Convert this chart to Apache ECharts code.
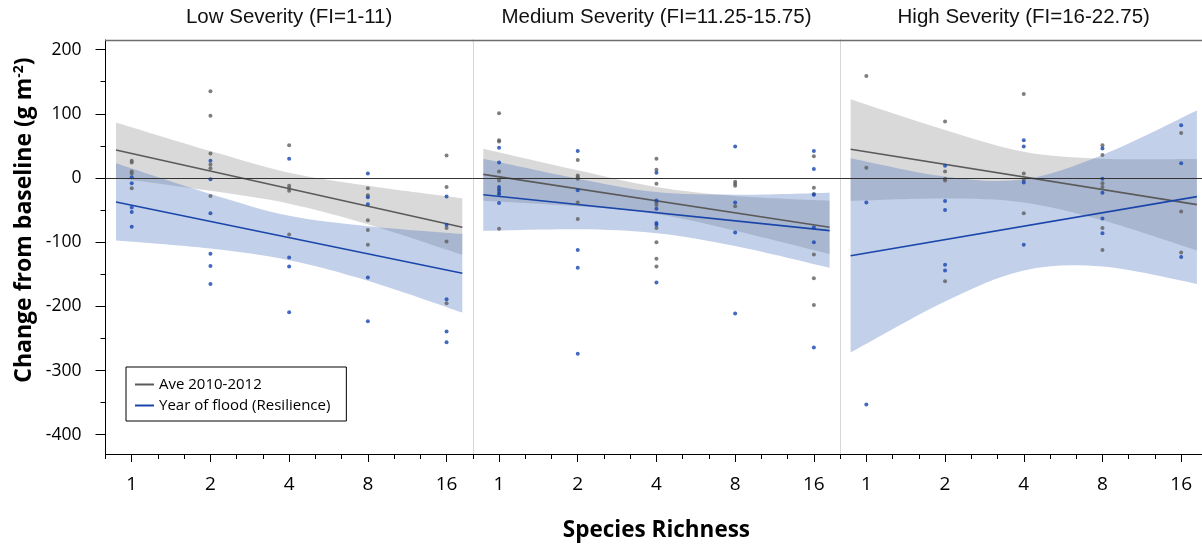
<!DOCTYPE html>
<html>
<head>
<meta charset="utf-8">
<title>Change from baseline vs species richness</title>
<script src="https://cdn.jsdelivr.net/npm/echarts@6/dist/echarts.min.js"></script>
<style>
html, body { margin: 0; padding: 0; background: #fff; }
#chart { width: 1202px; height: 544px; }
</style>
</head>
<body>
<div id="chart"></div>
<script>
var richness = [1, 2, 4, 8, 16];
var yLabels = [-400, -300, -200, -100, 0, 100, 200];
var yMinorTicks = [-350, -250, -150, -50, 50, 150];
var xMinorTicks = [-1 / 3, 1 / 3, 2 / 3, 4 / 3, 5 / 3, 7 / 3, 8 / 3, 10 / 3, 11 / 3, 13 / 3];
var panelTitles = ['Low Severity (FI=1-11)', 'Medium Severity (FI=11.25-15.75)', 'High Severity (FI=16-22.75)'];
var aveName = 'Ave 2010-2012';
var floodName = 'Year of flood (Resilience)';

// points: [species richness, change from baseline]
var lowAve = [[1, 27], [1, 24], [1, 10], [1, 7], [1, -16],
    [2, 135], [2, 97], [2, 38], [2, 21], [2, 15], [2, -28],
    [4, 51], [4, -12], [4, -16], [4, -20], [4, -88],
    [8, -16], [8, -27], [8, -66], [8, -81], [8, -104],
    [16, 35], [16, -14], [16, -78], [16, -99], [16, -195]];
var lowFlood = [[1, 1], [1, -8], [1, -46], [1, -53], [1, -76],
    [2, 27], [2, -2], [2, -55], [2, -118], [2, -137], [2, -165],
    [4, 30], [4, -124], [4, -138], [4, -209],
    [8, 7], [8, -30], [8, -41], [8, -155], [8, -223],
    [16, -29], [16, -73], [16, -189], [16, -239], [16, -256]];
var medAve = [[1, 101], [1, 59], [1, 57], [1, 10], [1, -4], [1, -17], [1, -24], [1, -79],
    [2, 28], [2, 4], [2, 1], [2, -1], [2, -38], [2, -64],
    [4, 30], [4, 13], [4, -9], [4, -38], [4, -42], [4, -78], [4, -100], [4, -126], [4, -138],
    [8, -6], [8, -9], [8, -12], [8, -44],
    [16, 34], [16, -15], [16, -25], [16, -119], [16, -156], [16, -198]];
var medFlood = [[1, 47], [1, 24], [1, -14], [1, -20], [1, -25], [1, -39],
    [2, 42], [2, -19], [2, -112], [2, -140], [2, -274],
    [4, 8], [4, -35], [4, -48], [4, -70], [4, -73], [4, -163],
    [8, 49], [8, -38], [8, -85], [8, -211],
    [16, 42], [16, 14], [16, -26], [16, -77], [16, -100], [16, -264]];
var highAve = [[1, 159], [1, 16],
    [2, 88], [2, 10], [2, -1], [2, -4], [2, -161],
    [4, 131], [4, 7], [4, -3], [4, -55],
    [8, 51], [8, 36], [8, -8], [8, -14], [8, -78], [8, -112],
    [16, 70], [16, -52], [16, -116]];
var highFlood = [[1, -38], [1, -353],
    [2, 19], [2, -36], [2, -50], [2, -135], [2, -144],
    [4, 59], [4, 49], [4, -7], [4, -104],
    [8, 46], [8, -1], [8, -23], [8, -63], [8, -86],
    [16, 82], [16, 23], [16, -123]];

// fitted lines, at log2(richness) = fitX
var fitX = [-0.2, 4.2];
var lowAveFit = [43.6, -76.7];
var lowFloodFit = [-37.4, -148.4];
var medAveFit = [5.7, -76.7];
var medFloodFit = [-26, -82];
var highAveFit = [44.7, -41.5];
var highFloodFit = [-121, -29];

// confidence bands, at log2(richness) = bandX
var bandX = [-0.2, 1, 2, 3, 4.2];
var lowAveUp = [86.6, 42, 8.3, -12, -31.6];
var lowAveLo = [0, -20, -40, -72, -119.6];
var lowFloodUp = [22.8, -25, -59, -75, -87];
var lowFloodLo = [-97.5, -110, -128, -160, -209.6];
var medAveUp = [45.6, 12, -14, -28, -35.3];
var medAveLo = [-35.3, -44, -56, -82, -118.3];
var medFloodUp = [30, -1, -22, -26, -22.8];
var medFloodLo = [-82.5, -80, -86, -106, -140];
var highAveUp = [122.5, 74.7, 41, 30, 29.6];
var highAveLo = [-35.8, -32, -38, -66, -113];
var highFloodUp = [30.6, 2, -2, 35.8, 105];
var highFloodLo = [-272, -192.5, -144, -138, -165];

var panels = [
    {ave: lowAve, flood: lowFlood, aveFit: lowAveFit, floodFit: lowFloodFit,
        aveUp: lowAveUp, aveLo: lowAveLo, floodUp: lowFloodUp, floodLo: lowFloodLo},
    {ave: medAve, flood: medFlood, aveFit: medAveFit, floodFit: medFloodFit,
        aveUp: medAveUp, aveLo: medAveLo, floodUp: medFloodUp, floodLo: medFloodLo},
    {ave: highAve, flood: highFlood, aveFit: highAveFit, floodFit: highFloodFit,
        aveUp: highAveUp, aveLo: highAveLo, floodUp: highFloodUp, floodLo: highFloodLo}
];

var grayDot = '#5e5e5e', blueDot = '#1545b0';
var grayLine = '#5a5a5a', blueLine = '#1a46aa';
var grayBand = 'rgba(160,160,160,0.40)', blueBand = 'rgba(68,108,189,0.32)';
var font = 'Open Sans';

var myChart = echarts.init(document.getElementById('chart'));

function log2Points(pts) {
    var res = [];
    for (var i = 0; i < pts.length; i++) {
        res.push([Math.log2(pts[i][0]), pts[i][1]]);
    }
    return res;
}

function pairUp(xs, ys) {
    var res = [];
    for (var i = 0; i < xs.length; i++) res.push([xs[i], ys[i]]);
    return res;
}

// smooth edge through screen points (catmull-rom -> bezier)
function curvePath(pts, cmd) {
    var d = cmd + pts[0][0] + ' ' + pts[0][1];
    for (var i = 0; i < pts.length - 1; i++) {
        var p0 = pts[Math.max(i - 1, 0)], p1 = pts[i], p2 = pts[i + 1];
        var p3 = pts[Math.min(i + 2, pts.length - 1)];
        d += ' C' + (p1[0] + (p2[0] - p0[0]) / 6) + ' ' + (p1[1] + (p2[1] - p0[1]) / 6) +
            ' ' + (p2[0] - (p3[0] - p1[0]) / 6) + ' ' + (p2[1] - (p3[1] - p1[1]) / 6) +
            ' ' + p2[0] + ' ' + p2[1];
    }
    return d;
}

function bandSeries(xi, yi, up, lo, color) {
    return {
        type: 'custom',
        xAxisIndex: xi,
        yAxisIndex: yi,
        silent: true,
        z: 1,
        data: [[bandX[0], up[0]]],
        renderItem: function (params, api) {
            var top = [], bottom = [];
            for (var k = 0; k < bandX.length; k++) {
                top.push(api.coord([bandX[k], up[k]]));
                bottom.push(api.coord([bandX[k], lo[k]]));
            }
            bottom.reverse();
            return {
                type: 'path',
                shape: {pathData: curvePath(top, 'M') + ' ' + curvePath(bottom, 'L') + ' Z'},
                style: {fill: color}
            };
        }
    };
}

var gridLeft = [105.5, 472.8, 840.1];
var grids = [], xAxes = [], yAxes = [], series = [];

for (var i = 0; i < 3; i++) {
    grids.push({left: gridLeft[i], top: 40, width: 367.3, height: 414, outerBoundsMode: 'none'});

    var xMain = xAxes.length;
    xAxes.push({
        type: 'value', gridIndex: i, min: -1 / 3, max: 13 / 3, position: 'bottom',
        axisLine: {onZero: false, lineStyle: {color: '#000', width: 1}},
        axisTick: {customValues: [0, 1, 2, 3, 4], length: 8, lineStyle: {color: '#000'}},
        axisLabel: {
            customValues: [0, 1, 2, 3, 4], margin: 21, color: '#000',
            fontFamily: font, fontSize: 19,
            formatter: function (v) { return richness[Math.round(v)]; }
        },
        splitLine: {show: false},
        name: i === 1 ? 'Species Richness' : '',
        nameLocation: 'middle', nameGap: 65,
        nameTextStyle: {fontFamily: font, fontWeight: 'bold', fontSize: 22.5, color: '#000'}
    });
    xAxes.push({
        type: 'value', gridIndex: i, min: -1 / 3, max: 13 / 3, position: 'bottom',
        axisLine: {show: false, onZero: false},
        axisTick: {customValues: xMinorTicks, length: 5, lineStyle: {color: '#000'}},
        axisLabel: {show: false},
        splitLine: {show: false}
    });
    xAxes.push({
        type: 'value', gridIndex: i, min: -1 / 3, max: 13 / 3, position: 'top',
        axisLine: {onZero: false, lineStyle: {color: '#6e6e6e', width: 1.3}},
        axisTick: {show: false},
        axisLabel: {show: false},
        splitLine: {show: false},
        name: panelTitles[i], nameLocation: 'middle', nameGap: 12,
        nameTextStyle: {fontFamily: 'Liberation Sans', fontSize: 20.5, color: '#111'}
    });

    var yMain = yAxes.length;
    yAxes.push({
        type: 'value', gridIndex: i, min: -430, max: 215, position: 'left',
        axisLine: {show: true, onZero: false, lineStyle: {color: i === 0 ? '#000' : '#d6d6d6', width: 1}},
        axisTick: {show: i === 0, customValues: yLabels, length: 10, lineStyle: {color: '#000'}},
        axisLabel: {show: i === 0, customValues: yLabels, margin: 24, color: '#000', fontFamily: font, fontSize: 17.5},
        splitLine: {show: false},
        name: i === 0 ? 'Change from baseline (g m{sup|-2})' : '',
        nameLocation: 'middle', nameRotate: 90, nameGap: 70,
        nameTextStyle: {
            fontFamily: font, fontWeight: 'bold', fontSize: 23, color: '#000',
            padding: [0, 0, 0, 54],
            rich: {sup: {fontFamily: font, fontWeight: 'bold', fontSize: 14, verticalAlign: 'top', lineHeight: 14}}
        }
    });
    if (i === 0) {
        yAxes.push({
            type: 'value', gridIndex: 0, min: -430, max: 215, position: 'left',
            axisLine: {show: false, onZero: false},
            axisTick: {customValues: yMinorTicks, length: 5, lineStyle: {color: '#000'}},
            axisLabel: {show: false},
            splitLine: {show: false}
        });
    }

    var p = panels[i];
    series.push(bandSeries(xMain, yMain, p.aveUp, p.aveLo, grayBand));
    series.push(bandSeries(xMain, yMain, p.floodUp, p.floodLo, blueBand));
    series.push({
        name: aveName, type: 'line', xAxisIndex: xMain, yAxisIndex: yMain, z: 3,
        data: pairUp(fitX, p.aveFit), symbol: 'none', color: grayLine,
        lineStyle: {color: grayLine, width: 1.6},
        markLine: {
            silent: true, symbol: ['none', 'none'], label: {show: false},
            lineStyle: {color: '#333', width: 1.2, type: 'solid'},
            emphasis: {disabled: true},
            data: [{yAxis: 0}]
        }
    });
    series.push({
        name: floodName, type: 'line', xAxisIndex: xMain, yAxisIndex: yMain, z: 3,
        data: pairUp(fitX, p.floodFit), symbol: 'none', color: blueLine,
        lineStyle: {color: blueLine, width: 1.6}
    });
    series.push({
        type: 'scatter', xAxisIndex: xMain, yAxisIndex: yMain, z: 4,
        data: log2Points(p.ave), symbolSize: 4, itemStyle: {color: grayDot}
    });
    series.push({
        type: 'scatter', xAxisIndex: xMain, yAxisIndex: yMain, z: 4,
        data: log2Points(p.flood), symbolSize: 4, itemStyle: {color: blueDot}
    });
}

var option = {
    backgroundColor: '#fff',
    animation: false,
    grid: grids,
    xAxis: xAxes,
    yAxis: yAxes,
    legend: {
        data: [{name: aveName, icon: 'rect'}, {name: floodName, icon: 'rect'}],
        orient: 'vertical', left: 126, top: 367,
        itemWidth: 19, itemHeight: 2, itemGap: 6,
        padding: [10, 16, 8, 9],
        borderColor: '#000', borderWidth: 1, backgroundColor: '#fff',
        selectedMode: false,
        textStyle: {fontFamily: font, fontSize: 15, color: '#000'}
    },
    series: series
};

myChart.setOption(option);

window.addEventListener('resize', function () {
    myChart.resize();
});
</script>
</body>
</html>
